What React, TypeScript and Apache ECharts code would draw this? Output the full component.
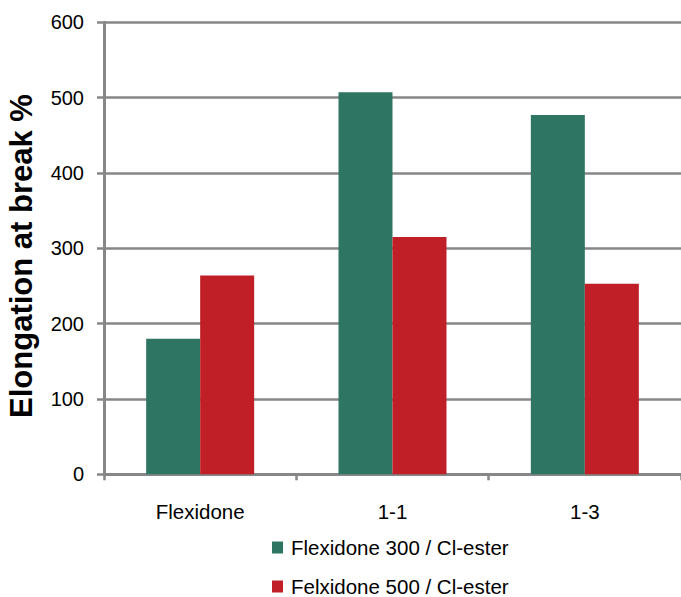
import React, { useEffect, useRef } from "react";
import * as echarts from "echarts";

// Elongation at break (%) per formulation
const categories = ["Flexidone", "1-1", "1-3"];
const seriesNames = ["Flexidone 300 / Cl-ester", "Felxidone 500 / Cl-ester"];
const flexidone300 = [180, 507, 477];
const felxidone500 = [264, 315, 253];
const yTicks = { min: 0, max: 600, interval: 100 };
const yTitle = "Elongation at break %";

const FONT = "'Liberation Sans', Arial, Helvetica, sans-serif";
const GREEN = "#2e7563";
const RED = "#c01f27";
const AXIS_GREY = "#878787";

export default function App() {
  const ref = useRef<HTMLDivElement>(null);

  useEffect(() => {
    if (!ref.current) return;
    const chart = echarts.init(ref.current, null, { renderer: "svg" });
    chart.setOption({
      animation: false,
      backgroundColor: "#ffffff",
      textStyle: { fontFamily: FONT },
      grid: { left: 104, top: 22.3, width: 580.5, height: 452, containLabel: false },
      legend: {
        orient: "vertical",
        left: 272,
        top: 537,
        padding: 0,
        itemWidth: 11,
        itemHeight: 12,
        itemGap: 18,
        icon: "rect",
        data: seriesNames,
        textStyle: { fontFamily: FONT, fontSize: 20.5, color: "#000", padding: [0, 0, 0, 3] },
      },
      xAxis: {
        type: "category",
        data: categories,
        boundaryGap: true,
        axisLine: { show: true, lineStyle: { color: AXIS_GREY, width: 3 } },
        axisTick: { show: true, length: 6, lineStyle: { color: AXIS_GREY, width: 2.5 } },
        axisLabel: { fontFamily: FONT, fontSize: 20.5, color: "#000", margin: 27 },
        splitLine: { show: false },
      },
      yAxis: {
        type: "value",
        min: yTicks.min,
        max: yTicks.max,
        interval: yTicks.interval,
        axisLine: { show: true, lineStyle: { color: AXIS_GREY, width: 3 } },
        axisTick: { show: true, length: 7, lineStyle: { color: AXIS_GREY, width: 2.5 } },
        axisLabel: { fontFamily: FONT, fontSize: 20, color: "#000", margin: 20 },
        splitLine: { show: true, lineStyle: { color: AXIS_GREY, width: 2.5 } },
      },
      graphic: [
        {
          type: "text",
          x: 21,
          y: 256,
          rotation: Math.PI / 2,
          style: {
            text: yTitle,
            font: `bold 31px ${FONT}`,
            fill: "#000",
            textAlign: "center",
            textVerticalAlign: "middle",
          },
        },
      ],
      series: [
        {
          name: seriesNames[0],
          type: "bar",
          data: flexidone300,
          barWidth: 54,
          barGap: "0%",
          itemStyle: { color: GREEN },
        },
        {
          name: seriesNames[1],
          type: "bar",
          data: felxidone500,
          barWidth: 54,
          barGap: "0%",
          itemStyle: { color: RED },
        },
      ],
    });
    return () => chart.dispose();
  }, []);

  return (
    <div
      ref={ref}
      style={{ position: "fixed", left: 0, top: 0, width: 681, height: 597 }}
    />
  );
}
